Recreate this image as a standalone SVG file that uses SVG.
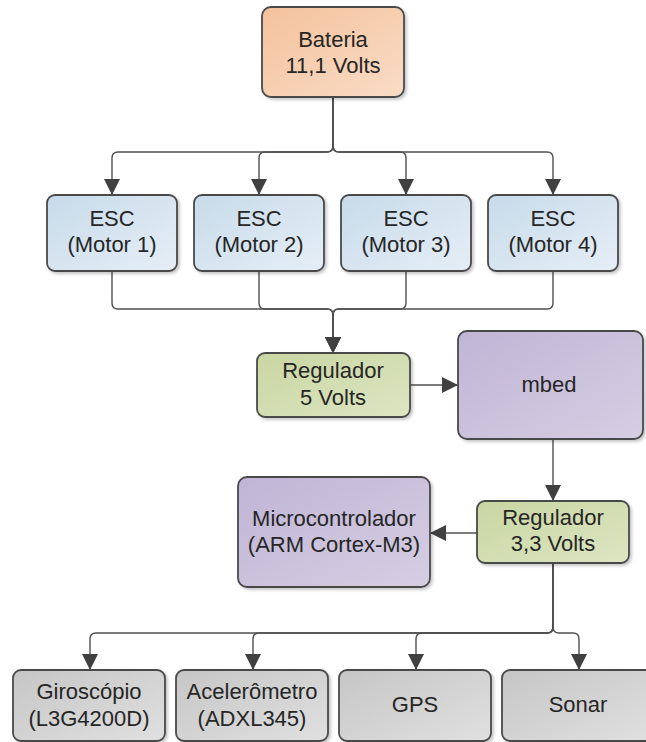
<svg xmlns="http://www.w3.org/2000/svg" width="646" height="742" viewBox="0 0 646 742">
<defs>
<linearGradient id="gOrange" x1="0" y1="0" x2="1" y2="1"><stop offset="0" stop-color="#f4c29c"/><stop offset="1" stop-color="#f9dcc6"/></linearGradient>
<linearGradient id="gBlue" x1="0" y1="0" x2="1" y2="1"><stop offset="0" stop-color="#c7dbea"/><stop offset="1" stop-color="#e6eef6"/></linearGradient>
<linearGradient id="gGreen" x1="0" y1="0" x2="1" y2="1"><stop offset="0" stop-color="#c9d6a2"/><stop offset="1" stop-color="#dde5c2"/></linearGradient>
<linearGradient id="gPurple" x1="0" y1="0" x2="1" y2="1"><stop offset="0" stop-color="#c0b5d5"/><stop offset="1" stop-color="#d6cee3"/></linearGradient>
<linearGradient id="gGray" x1="0" y1="0" x2="1" y2="1"><stop offset="0" stop-color="#c6c6c6"/><stop offset="1" stop-color="#e0e0e0"/></linearGradient>
<filter id="sh" x="-10%" y="-10%" width="130%" height="130%"><feDropShadow dx="2" dy="2" stdDeviation="1.5" flood-color="#000" flood-opacity="0.22"/></filter>
<marker id="arr" markerUnits="userSpaceOnUse" markerWidth="16" markerHeight="16" viewBox="0 0 16 16" refX="16" refY="8" orient="auto"><path d="M0,0 L16,8 L0,16 Z" fill="#404040"/></marker>
</defs>
<style>
.box{stroke:#4a4a4a;stroke-width:1.8;filter:url(#sh)}
.t{font-family:"Liberation Sans",Arial,sans-serif;font-size:22px;fill:#262626;text-anchor:middle}
.c{fill:none;stroke:#505050;stroke-width:1.4}
</style>
<g id="connectors">
<path class="c" d="M333,97 V146 Q333,152 327,152 H118 Q112,152 112,158 V195" marker-end="url(#arr)"/>
<path class="c" d="M333,97 V146 Q333,152 327,152 H265 Q259,152 259,158 V195" marker-end="url(#arr)"/>
<path class="c" d="M333,97 V146 Q333,152 339,152 H400 Q406,152 406,158 V195" marker-end="url(#arr)"/>
<path class="c" d="M333,97 V146 Q333,152 339,152 H547 Q553,152 553,158 V195" marker-end="url(#arr)"/>
<path class="c" d="M112,271 V303 Q112,309 118,309 H327 Q333,309 333,315 V353" marker-end="url(#arr)"/>
<path class="c" d="M259,271 V303 Q259,309 265,309 H327 Q333,309 333,315 V353" marker-end="url(#arr)"/>
<path class="c" d="M406,271 V303 Q406,309 400,309 H339 Q333,309 333,315 V353" marker-end="url(#arr)"/>
<path class="c" d="M553,271 V303 Q553,309 547,309 H339 Q333,309 333,315 V353" marker-end="url(#arr)"/>
<path class="c" d="M410,385 H458" marker-end="url(#arr)"/>
<path class="c" d="M553,439 V501" marker-end="url(#arr)"/>
<path class="c" d="M477,533 H430" marker-end="url(#arr)"/>
<path class="c" d="M553,563 V627 Q553,633 547,633 H96 Q90,633 90,639 V670" marker-end="url(#arr)"/>
<path class="c" d="M553,563 V627 Q553,633 547,633 H259 Q253,633 253,639 V670" marker-end="url(#arr)"/>
<path class="c" d="M553,563 V627 Q553,633 547,633 H422 Q416,633 416,639 V670" marker-end="url(#arr)"/>
<path class="c" d="M553,563 V627 Q553,633 559,633 H573 Q579,633 579,639 V670" marker-end="url(#arr)"/>
</g>
<g id="bateria"><rect class="box" x="262" y="7" width="142" height="90" rx="9" fill="url(#gOrange)"/><text class="t" x="333" y="47">Bateria</text><text class="t" x="333" y="73">11,1 Volts</text></g>
<g id="esc1"><rect class="box" x="47" y="195" width="130" height="76" rx="8" fill="url(#gBlue)"/><text class="t" x="112" y="226">ESC</text><text class="t" x="112" y="252">(Motor 1)</text></g>
<g id="esc2"><rect class="box" x="194" y="195" width="130" height="76" rx="8" fill="url(#gBlue)"/><text class="t" x="259" y="226">ESC</text><text class="t" x="259" y="252">(Motor 2)</text></g>
<g id="esc3"><rect class="box" x="341" y="195" width="130" height="76" rx="8" fill="url(#gBlue)"/><text class="t" x="406" y="226">ESC</text><text class="t" x="406" y="252">(Motor 3)</text></g>
<g id="esc4"><rect class="box" x="488" y="195" width="130" height="76" rx="8" fill="url(#gBlue)"/><text class="t" x="553" y="226">ESC</text><text class="t" x="553" y="252">(Motor 4)</text></g>
<g id="reg5"><rect class="box" x="257" y="353" width="153" height="64" rx="8" fill="url(#gGreen)"/><text class="t" x="333" y="378">Regulador</text><text class="t" x="333" y="405">5 Volts</text></g>
<g id="mbed"><rect class="box" x="458" y="331" width="185" height="108" rx="9" fill="url(#gPurple)"/><text class="t" x="549" y="392">mbed</text></g>
<g id="reg33"><rect class="box" x="477" y="501" width="152" height="62" rx="8" fill="url(#gGreen)"/><text class="t" x="553" y="525">Regulador</text><text class="t" x="553" y="551">3,3 Volts</text></g>
<g id="micro"><rect class="box" x="238" y="477" width="192" height="110" rx="9" fill="url(#gPurple)"/><text class="t" x="334" y="526">Microcontrolador</text><text class="t" x="334" y="552">(ARM Cortex-M3)</text></g>
<g id="giro"><rect class="box" x="13" y="670" width="152" height="71" rx="8" fill="url(#gGray)"/><text class="t" x="89" y="699">Giroscópio</text><text class="t" x="89" y="726">(L3G4200D)</text></g>
<g id="acel"><rect class="box" x="176" y="670" width="152" height="71" rx="8" fill="url(#gGray)"/><text class="t" x="252" y="699">Acelerômetro</text><text class="t" x="252" y="726">(ADXL345)</text></g>
<g id="gps"><rect class="box" x="339" y="670" width="152" height="71" rx="8" fill="url(#gGray)"/><text class="t" x="415" y="712">GPS</text></g>
<g id="sonar"><rect class="box" x="502" y="670" width="152" height="71" rx="8" fill="url(#gGray)"/><text class="t" x="578" y="712">Sonar</text></g>
</svg>
